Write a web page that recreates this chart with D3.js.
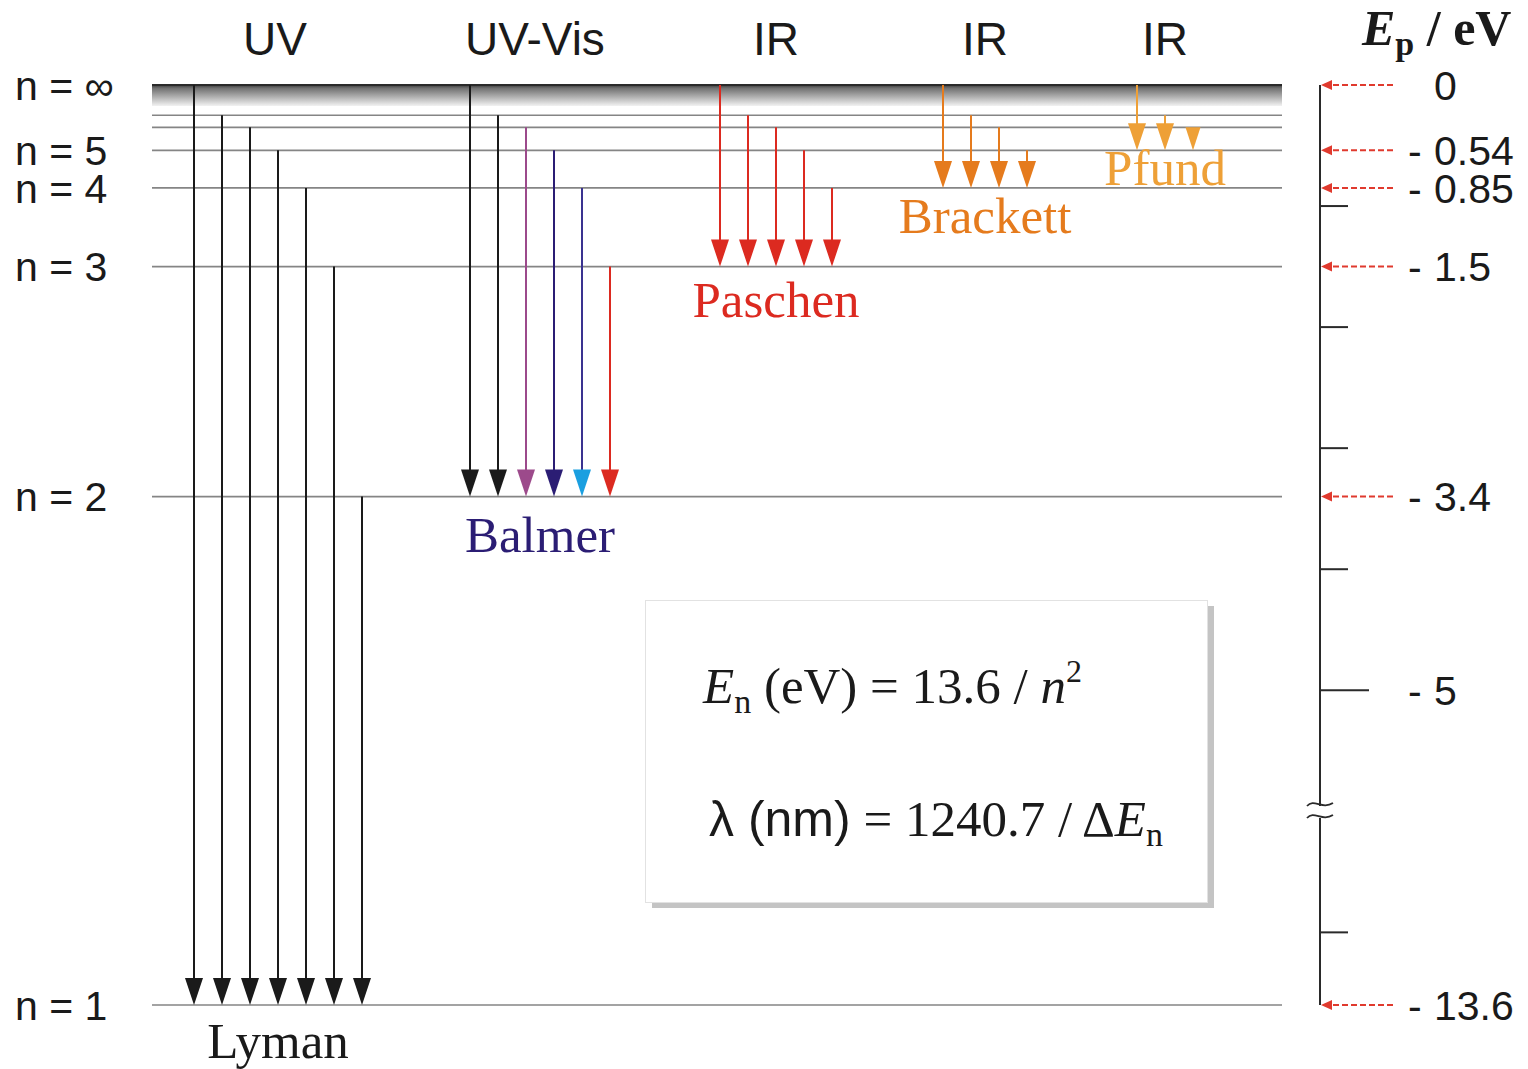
<!DOCTYPE html>
<html><head><meta charset="utf-8">
<script src="https://cdn.jsdelivr.net/npm/d3@7"></script>
<style>body{margin:0;background:#fff}svg{display:block}</style>
</head><body><svg id="c" width="1528" height="1069"></svg>
<script>
// ---------- data ----------
const levelN = ['1','2','3','4','5','6','7','∞'];
const levelE = [-13.6, -3.4, -1.5, -0.85, -0.54, -0.35, -0.25, 0];
const labeledLevels = ['∞','5','4','3','2','1'];
const seriesNames = ['Lyman','Balmer','Paschen','Brackett','Pfund'];
const regionLabels = ['UV','UV-Vis','IR','IR','IR'];
const lowerLevel = ['1','2','3','4','5'];
const upperLevels = [
  ['∞','7','6','5','4','3','2'],
  ['∞','7','6','5','4','3'],
  ['∞','7','6','5','4'],
  ['∞','7','6','5'],
  ['∞','7','6']
];
const axisTickValues = [-1,-2,-3,-4,-5,-13];
const axisLabelValues = [0,-0.54,-0.85,-1.5,-3.4,-5,-13.6];
const arrowedValues = [0,-0.54,-0.85,-1.5,-3.4,-13.6];

// ---------- styles / layout ----------
const seriesColor = ['#1a1a1a','#2b1d74','#dc2a20','#e57b1d','#eea037'];
const balmerLine = ['#1a1a1a','#1a1a1a','#9c4a8b','#2b1d74','#3a3290','#dc2a20'];
const balmerHead = ['#1a1a1a','#1a1a1a','#9c4a8b','#2b1d74','#1a9fe0','#dc2a20'];
const colCenter = [278, 540, 776, 985, 1165];
const regionX = [275, 535, 776, 985, 1165];
const step = 28;

const svg = d3.select('#c');
const E = n => levelE[levelN.indexOf(n)];

// piecewise energy scale (axis break between -6 and -12 eV)
const yLin = d3.scaleLinear().domain([0, -7.6]).range([85, 1005]);
const y = e => e < -6 ? yLin(e + 6) : yLin(e);

const x0 = 152, x1 = 1282;
const defs = svg.append('defs');
const g = defs.append('linearGradient').attr('id','band').attr('x1',0).attr('y1',0).attr('x2',0).attr('y2',1);
g.append('stop').attr('offset','0%').attr('stop-color','#3c3c3c');
g.append('stop').attr('offset','15%').attr('stop-color','#707070');
g.append('stop').attr('offset','100%').attr('stop-color','#f2f2f2');

// band for n = infinity
svg.append('rect').attr('x',x0).attr('y',y(0)).attr('width',x1-x0).attr('height',21).attr('fill','url(#band)');
svg.append('line').attr('x1',x0).attr('x2',x1).attr('y1',y(0)).attr('y2',y(0)).attr('stroke','#2a2a2a').attr('stroke-width',2);

// level lines
svg.selectAll('line.lvl').data(levelN.filter(n => n !== '∞')).enter().append('line')
  .attr('class','lvl').attr('x1',x0).attr('x2',x1)
  .attr('y1',d => y(E(d))).attr('y2',d => y(E(d)))
  .attr('stroke','#858585').attr('stroke-width',1.6);

// left labels
svg.selectAll('text.nl').data(labeledLevels).enter().append('text')
  .attr('x',15).attr('y',d => y(E(d))).attr('dy','0.36em')
  .attr('font-family','Liberation Sans, Arial, sans-serif').attr('font-size',41).attr('fill','#1a1a1a')
  .text(d => 'n = ' + d);

// top region labels
svg.selectAll('text.rg').data(regionLabels).enter().append('text')
  .attr('x',(d,i) => regionX[i]).attr('y',55).attr('text-anchor','middle')
  .attr('font-family','Liberation Sans, Arial, sans-serif').attr('font-size',46).attr('fill','#1a1a1a')
  .text(d => d);

// arrows
function arrow(x, ya, yb, lineCol, headCol) {
  const len = yb - ya;
  const hh = Math.min(27, len);
  const hw = hh < 27 ? 7.5 : 9;
  if (len > hh) svg.append('line').attr('x1',x).attr('x2',x).attr('y1',ya).attr('y2',yb-hh+2)
    .attr('stroke',lineCol).attr('stroke-width',2);
  svg.append('path').attr('d',`M${x-hw},${yb-hh}L${x+hw},${yb-hh}L${x},${yb}Z`).attr('fill',headCol);
}
seriesNames.forEach((s,i) => {
  const ups = upperLevels[i];
  const k = ups.length;
  const yb = y(E(lowerLevel[i]));
  ups.forEach((u,j) => {
    const x = colCenter[i] + (j - (k-1)/2) * step;
    const lc = i === 1 ? balmerLine[j] : seriesColor[i];
    const hc = i === 1 ? balmerHead[j] : seriesColor[i];
    arrow(x, y(E(u)), yb, lc, hc);
  });
});

// series names
const nameY = [1058, 552, 317, 233, 185];
svg.selectAll('text.sn').data(seriesNames).enter().append('text')
  .attr('x',(d,i) => colCenter[i]).attr('y',(d,i) => nameY[i]).attr('text-anchor','middle')
  .attr('font-family','Liberation Serif, Times New Roman, serif').attr('font-size',51)
  .attr('fill',(d,i) => seriesColor[i])
  .text(d => d);

// right axis
const ax = 1320;
svg.append('line').attr('x1',ax).attr('x2',ax).attr('y1',y(0)).attr('y2',806).attr('stroke','#2a2a2a').attr('stroke-width',2);
svg.append('line').attr('x1',ax).attr('x2',ax).attr('y1',818).attr('y2',y(-13.6)).attr('stroke','#2a2a2a').attr('stroke-width',2);
[800, 812].forEach(b => {
  svg.append('path').attr('d',`M1307,${b+6} C1314,${b-2} 1322,${b+10} 1333,${b+3}`)
    .attr('fill','none').attr('stroke','#2a2a2a').attr('stroke-width',1.8);
});
svg.selectAll('line.tk').data(axisTickValues).enter().append('line')
  .attr('x1',ax).attr('x2',d => d === -5 ? 1369 : 1348)
  .attr('y1',d => y(d)).attr('y2',d => y(d)).attr('stroke','#2a2a2a').attr('stroke-width',2);

// red dashed arrows
svg.selectAll('line.ra').data(arrowedValues).enter().append('line')
  .attr('x1',1393).attr('x2',ax+10).attr('y1',d => y(d)).attr('y2',d => y(d))
  .attr('stroke','#e03a2e').attr('stroke-width',2).attr('stroke-dasharray','6,3');
svg.selectAll('path.rh').data(arrowedValues).enter().append('path')
  .attr('d',d => `M${ax+1},${y(d)}L${ax+12},${y(d)-5}L${ax+12},${y(d)+5}Z`).attr('fill','#e03a2e');

// axis labels
const lab = svg.selectAll('g.al').data(axisLabelValues).enter().append('g')
  .attr('font-family','Liberation Sans, Arial, sans-serif').attr('font-size',41).attr('fill','#1a1a1a');
lab.filter(d => d !== 0).append('text').attr('x',1408).attr('y',d => y(d)).attr('dy','0.36em').text('-');
lab.append('text').attr('x',1434).attr('y',d => y(d)).attr('dy','0.36em').text(d => String(Math.abs(d)));

// axis title
const t = svg.append('text').attr('x',1362).attr('y',45)
  .attr('font-family','Liberation Serif, Times New Roman, serif').attr('font-size',50).attr('font-weight','bold').attr('fill','#1a1a1a');
t.append('tspan').attr('font-style','italic').text('E');
t.append('tspan').attr('font-size',34).attr('dy',10).text('p');
t.append('tspan').attr('dy',-10).text(' / eV');

// formula box
svg.append('rect').attr('x',652).attr('y',606).attr('width',562).attr('height',302).attr('fill','#c4c4c4');
svg.append('rect').attr('x',645.5).attr('y',600.5).attr('width',562).attr('height',302).attr('fill','#fff').attr('stroke','#e2e2e2').attr('stroke-width',1);

const serif = 'Liberation Serif, Times New Roman, serif';
const f1 = svg.append('text').attr('x',703).attr('y',703).attr('font-family',serif).attr('font-size',51).attr('fill','#1a1a1a');
f1.append('tspan').attr('font-style','italic').text('E');
f1.append('tspan').attr('font-size',34).attr('dy',10).text('n');
f1.append('tspan').attr('dy',-10).text(' (eV) = 13.6 / ');
f1.append('tspan').attr('font-style','italic').text('n');
f1.append('tspan').attr('font-size',32).attr('dy',-21).text('2');

const f2 = svg.append('text').attr('x',709).attr('y',836).attr('font-family',serif).attr('font-size',51).attr('fill','#1a1a1a');
f2.append('tspan').attr('font-family','Liberation Sans, Arial, sans-serif').attr('font-size',50).text('λ (nm)');
f2.append('tspan').text(' = 1240.7 / Δ');
f2.append('tspan').attr('font-style','italic').text('E');
f2.append('tspan').attr('font-size',34).attr('dy',10).text('n');
</script></body></html>
